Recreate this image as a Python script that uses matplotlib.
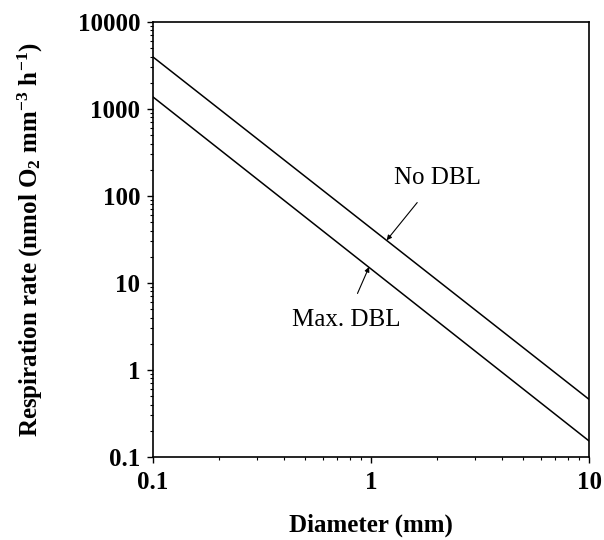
import matplotlib
matplotlib.use("Agg")
import matplotlib.pyplot as plt
from matplotlib.ticker import LogLocator, FixedLocator, FixedFormatter, NullFormatter

plt.rcParams['font.family'] = ['Liberation Serif', 'DejaVu Serif']
plt.rcParams['mathtext.fontset'] = 'custom'
plt.rcParams['mathtext.rm'] = 'Liberation Serif:bold'
plt.rcParams['mathtext.bf'] = 'Liberation Serif:bold'
plt.rcParams['mathtext.it'] = 'Liberation Serif:bold'

# Data
diameter = [0.1, 10]
no_dbl = [3960, 0.46]
max_dbl = [1375, 0.153]

x_ticks = [0.1, 1, 10]
x_ticklabels = ["0.1", "1", "10"]
y_ticks = [0.1, 1, 10, 100, 1000, 10000]
y_ticklabels = ["0.1", "1", "10", "100", "1000", "10000"]

fig = plt.figure(figsize=(6.04, 5.40), dpi=100)
ax = fig.add_axes([0.2533, 0.1537, 0.9752 - 0.2533, 0.9593 - 0.1537])

ax.plot(diameter, no_dbl, color='black', lw=1.1)
ax.plot(diameter, max_dbl, color='black', lw=1.1)

ax.set_xscale('log')
ax.set_yscale('log')
ax.set_xlim(0.1, 10)
ax.set_ylim(0.1, 10000)

ax.xaxis.set_major_locator(FixedLocator(x_ticks))
ax.xaxis.set_major_formatter(FixedFormatter(x_ticklabels))
ax.yaxis.set_major_locator(FixedLocator(y_ticks))
ax.yaxis.set_major_formatter(FixedFormatter(y_ticklabels))
ax.xaxis.set_minor_locator(LogLocator(base=10, subs=range(2, 10)))
ax.yaxis.set_minor_locator(LogLocator(base=10, subs=range(2, 10)))
ax.xaxis.set_minor_formatter(NullFormatter())
ax.yaxis.set_minor_formatter(NullFormatter())

ax.tick_params(which='major', direction='out', length=4, width=1.0,
               labelsize=18, pad=5)
ax.tick_params(axis='x', which='major', pad=6)
ax.tick_params(which='minor', direction='out', length=2, width=0.8)
ax.tick_params(top=False, right=False)
for lab in ax.get_xticklabels() + ax.get_yticklabels():
    lab.set_fontweight('bold')

for s in ax.spines.values():
    s.set_linewidth(1.2)

ax.set_xlabel("Diameter (mm)", fontsize=18, fontweight='bold', labelpad=14)
ax.set_ylabel(r"Respiration rate (nmol O$_\mathregular{2}$ mm$^\mathregular{-3}$ h$^\mathregular{-1}$)",
              fontsize=18, fontweight='bold', labelpad=24)

ax.annotate("No DBL", xy=(1.18, 31), xytext=(2.01, 161),
            ha='center', va='center', fontsize=18,
            arrowprops=dict(arrowstyle='-|>', color='black', lw=0.8,
                            mutation_scale=7, shrinkA=10, shrinkB=0))
ax.annotate("Max. DBL", xy=(0.98, 15.3), xytext=(0.767, 3.76),
            ha='center', va='center', fontsize=18,
            arrowprops=dict(arrowstyle='-|>', color='black', lw=0.8,
                            mutation_scale=7, shrinkA=10, shrinkB=0))

fig.savefig("out.png", dpi=100)
